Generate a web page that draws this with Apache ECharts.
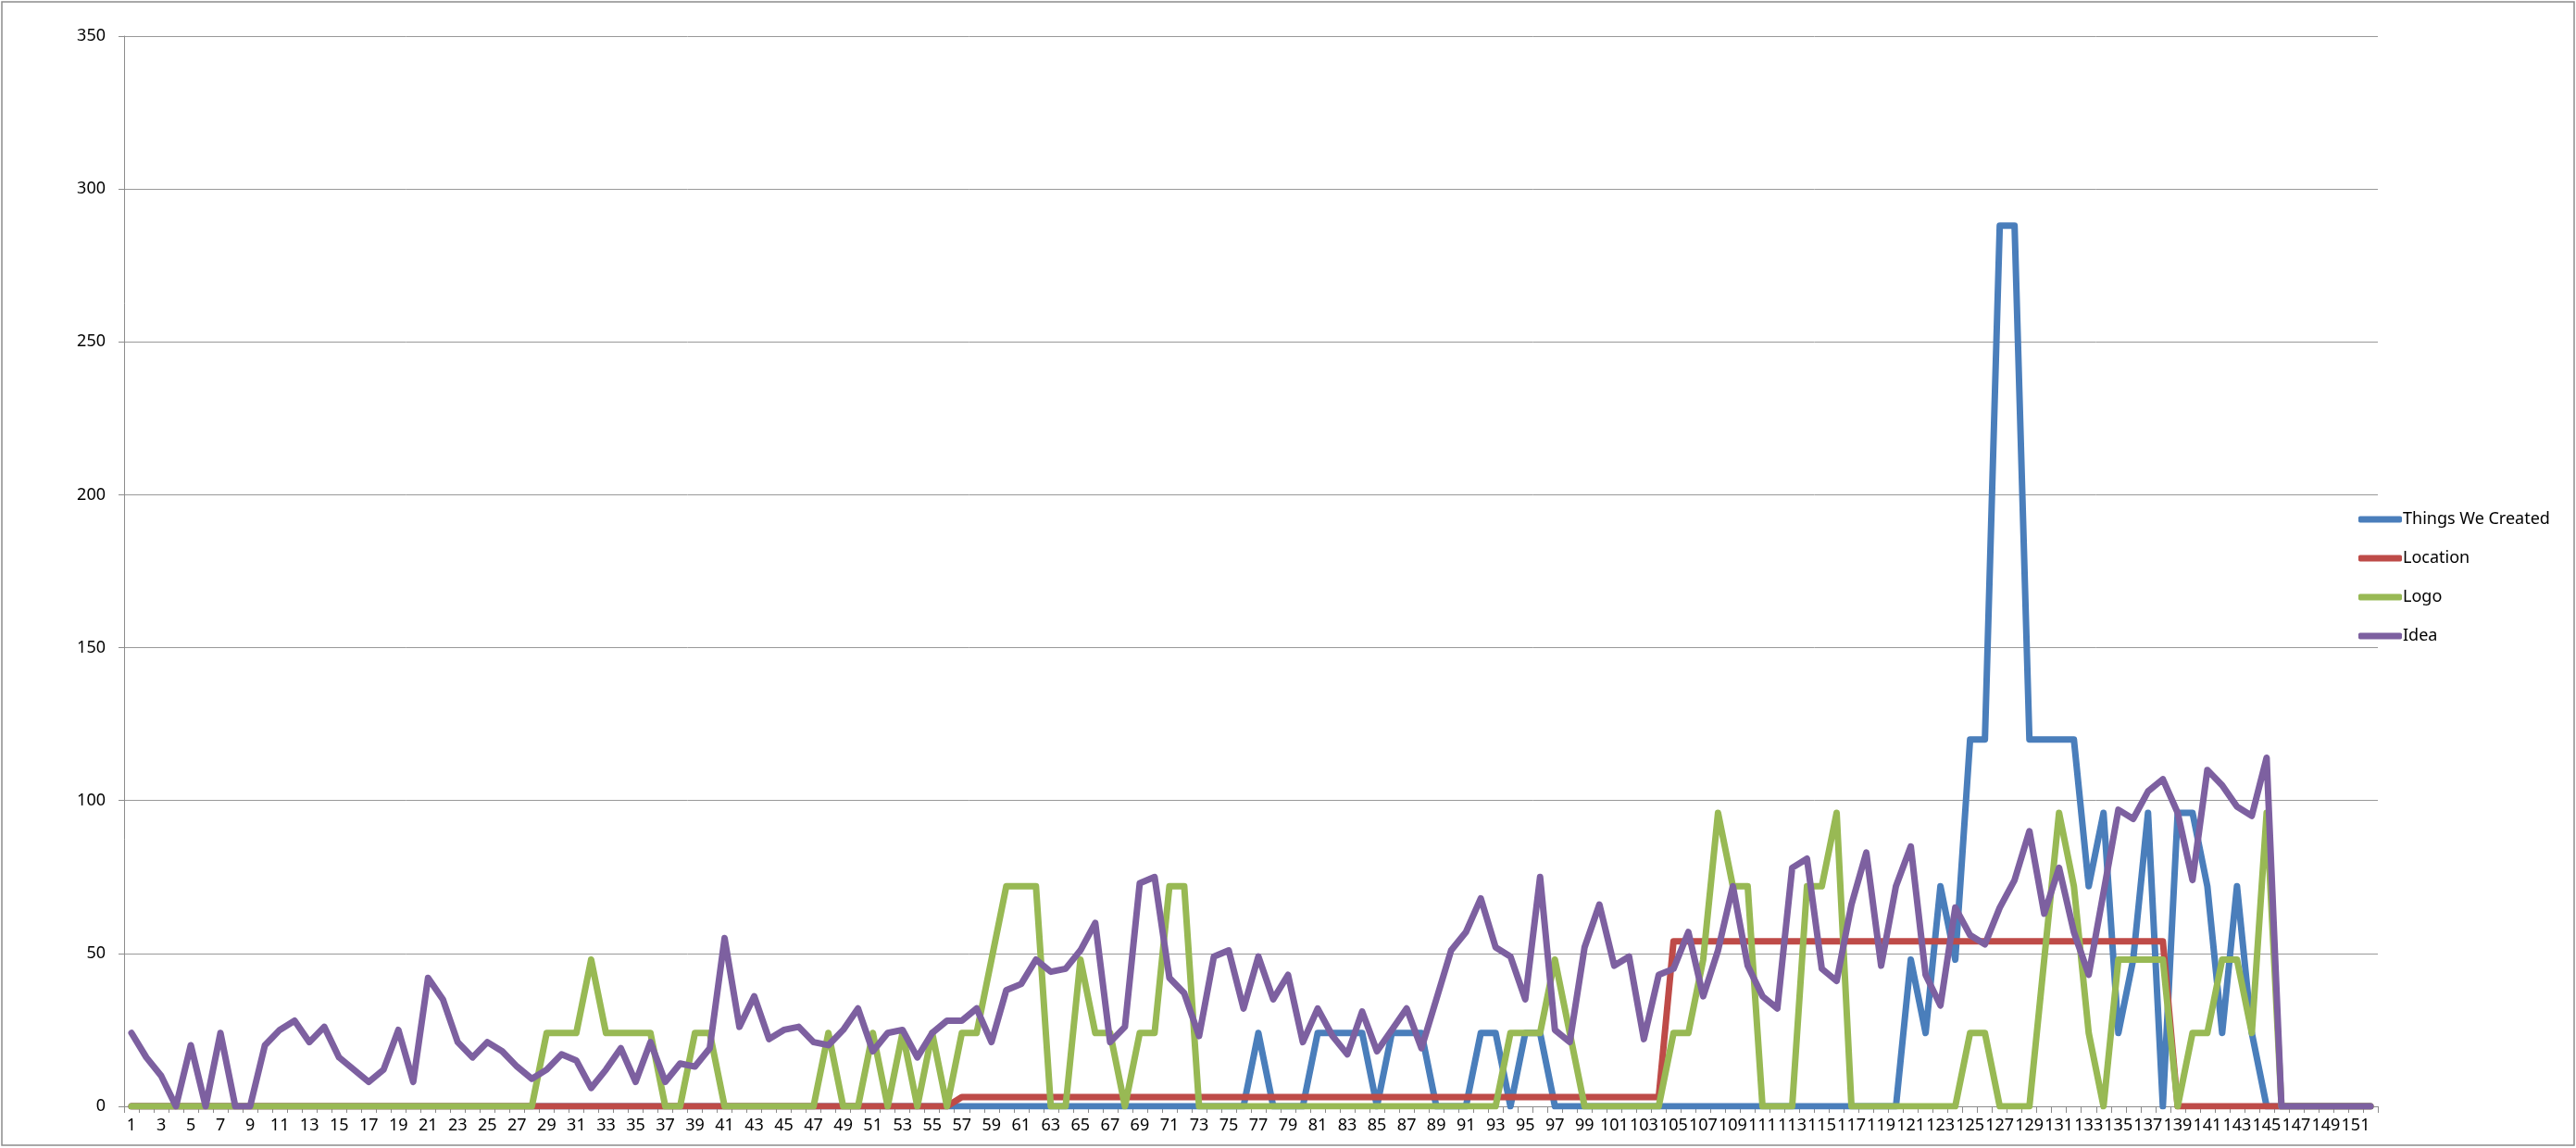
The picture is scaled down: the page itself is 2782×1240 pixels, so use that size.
<!DOCTYPE html>
<html>
<head>
<meta charset="utf-8">
<script src="https://cdn.jsdelivr.net/npm/echarts@6/dist/echarts.min.js"></script>
<style>
html,body{margin:0;padding:0;background:#fff;}
#chart{width:2782px;height:1240px;}
</style>
</head>
<body>
<div id="chart"></div>
<script>
const categories = [];
for (let i = 1; i <= 152; i++) categories.push(String(i));

const seriesNames = ['Things We Created', 'Location', 'Logo', 'Idea'];

const thingsWeCreated = [
  0,0,0,0,0,0,0,0,0,0, 0,0,0,0,0,0,0,0,0,0,
  0,0,0,0,0,0,0,0,0,0, 0,0,0,0,0,0,0,0,0,0,
  0,0,0,0,0,0,0,0,0,0, 0,0,0,0,0,0,0,0,0,0,
  0,0,0,0,0,0,0,0,0,0, 0,0,0,0,0,0,24,0,0,0,
  24,24,24,24,0,24,24,24,0,0, 0,24,24,0,24,24,0,0,0,0,
  0,0,0,0,0,0,0,0,0,0, 0,0,0,0,0,0,0,0,0,0,
  48,24,72,48,120,120,288,288,120,120, 120,120,72,96,24,48,96,0,96,96,
  72,24,72,24,0,0,0,0,0,0, 0,0
];

const locationValues = [
  0,0,0,0,0,0,0,0,0,0, 0,0,0,0,0,0,0,0,0,0,
  0,0,0,0,0,0,0,0,0,0, 0,0,0,0,0,0,0,0,0,0,
  0,0,0,0,0,0,0,0,0,0, 0,0,0,0,0,0,3,3,3,3,
  3,3,3,3,3,3,3,3,3,3, 3,3,3,3,3,3,3,3,3,3,
  3,3,3,3,3,3,3,3,3,3, 3,3,3,3,3,3,3,3,3,3,
  3,3,3,3,54,54,54,54,54,54, 54,54,54,54,54,54,54,54,54,54,
  54,54,54,54,54,54,54,54,54,54, 54,54,54,54,54,54,54,54,0,0,
  0,0,0,0,0,0,0,0,0,0, 0,0
];

const logo = [
  0,0,0,0,0,0,0,0,0,0, 0,0,0,0,0,0,0,0,0,0,
  0,0,0,0,0,0,0,0,24,24, 24,48,24,24,24,24,0,0,24,24,
  0,0,0,0,0,0,0,24,0,0, 24,0,24,0,24,0,24,24,48,72,
  72,72,0,0,48,24,24,0,24,24, 72,72,0,0,0,0,0,0,0,0,
  0,0,0,0,0,0,0,0,0,0, 0,0,0,24,24,24,48,24,0,0,
  0,0,0,0,24,24,48,96,72,72, 0,0,0,72,72,96,0,0,0,0,
  0,0,0,0,24,24,0,0,0,48, 96,72,24,0,48,48,48,48,0,24,
  24,48,48,24,96,0,0,0,0,0, 0,0
];

const idea = [
  24,16,10,0,20,0,24,0,0,20, 25,28,21,26,16,12,8,12,25,8,
  42,35,21,16,21,18,13,9,12,17, 15,6,12,19,8,21,8,14,13,19,
  55,26,36,22,25,26,21,20,25,32, 18,24,25,16,24,28,28,32,21,38,
  40,48,44,45,51,60,21,26,73,75, 42,37,23,49,51,32,49,35,43,21,
  32,23,17,31,18,25,32,19,35,51, 57,68,52,49,35,75,25,21,52,66,
  46,49,22,43,45,57,36,51,72,46, 36,32,78,81,45,41,66,83,46,72,
  85,43,33,65,56,53,65,74,90,63, 78,57,43,70,97,94,103,107,96,74,
  110,105,98,95,114,0,0,0,0,0, 0,0
];

const colors = ['#4a7ebb', '#be4b48', '#98b954', '#7d60a0'];
const seriesData = [thingsWeCreated, locationValues, logo, idea];

const FONT = 'Noto Sans';
const chart = echarts.init(document.getElementById('chart'), null, {renderer: 'canvas'});

chart.setOption({
  animation: false,
  backgroundColor: '#ffffff',
  color: colors,
  graphic: [{
    type: 'rect',
    shape: {x: 2, y: 2, width: 2778, height: 1235},
    style: {fill: 'none', stroke: '#8c8c8c', lineWidth: 1.5},
    silent: true
  }],
  grid: {left: 134, right: 214, top: 39, bottom: 45, containLabel: false},
  legend: {
    orient: 'vertical',
    left: 2542,
    top: 546,
    itemWidth: 47,
    itemHeight: 7,
    itemGap: 22,
    icon: 'roundRect',
    textStyle: {fontFamily: FONT, fontSize: 18, color: '#000', lineHeight: 20, padding: [0, 0, 0, -4]},
    data: seriesNames
  },
  xAxis: {
    type: 'category',
    data: categories,
    boundaryGap: true,
    axisLine: {show: true, lineStyle: {color: '#8c8c8c', width: 1}},
    axisTick: {show: true, interval: 0, length: 7, lineStyle: {color: '#8c8c8c'}},
    axisLabel: {interval: 1, fontFamily: FONT, fontSize: 18, color: '#000', margin: 12},
    splitLine: {show: false}
  },
  yAxis: {
    type: 'value',
    min: 0,
    max: 350,
    interval: 50,
    axisLine: {show: true, lineStyle: {color: '#8c8c8c', width: 1}},
    axisTick: {show: true, length: 6, lineStyle: {color: '#8c8c8c'}},
    axisLabel: {fontFamily: FONT, fontSize: 18, color: '#000', margin: 20},
    splitLine: {show: true, lineStyle: {color: '#999999', width: 1}}
  },
  series: seriesNames.map((name, k) => ({
    name: name,
    type: 'line',
    data: seriesData[k],
    showSymbol: false,
    symbol: 'none',
    lineStyle: {width: 7, color: colors[k], join: 'round', cap: 'round'},
    itemStyle: {color: colors[k]},
    emphasis: {disabled: true}
  }))
});
</script>
</body>
</html>
